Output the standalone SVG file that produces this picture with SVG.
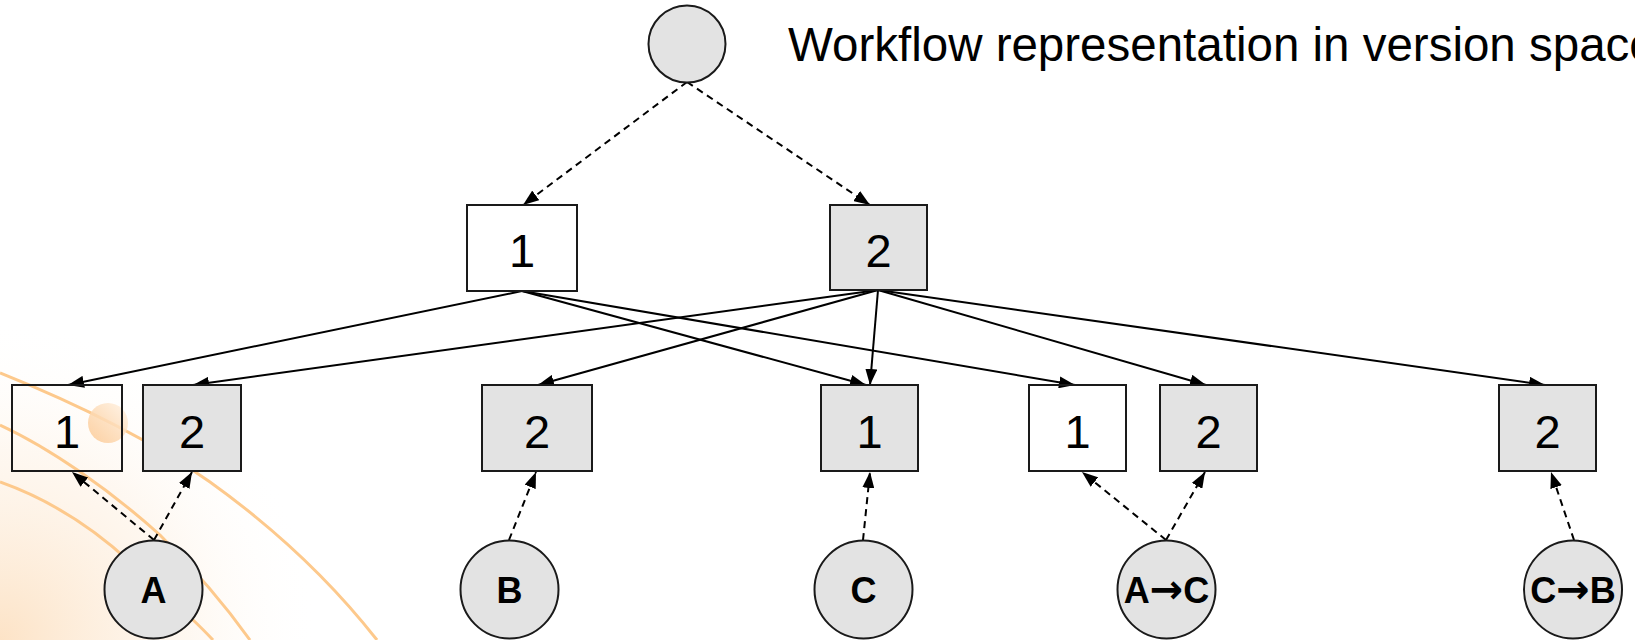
<svg xmlns="http://www.w3.org/2000/svg" width="1635" height="640" viewBox="0 0 1635 640">
  <defs>
    <style>
      .box { stroke: #1a1a1a; stroke-width: 2; }
      .plain { fill: none; }
      .shade { fill: #e3e3e3; }
      .node-circle { fill: #e3e3e3; stroke: #1a1a1a; stroke-width: 2; }
      .num { font-family: "Liberation Sans", Arial, sans-serif; font-size: 47px; fill: #000; text-anchor: middle; }
      .lbl { font-family: "Liberation Sans", Arial, sans-serif; font-size: 36px; font-weight: bold; fill: #000; text-anchor: middle; }
      .arr { font-family: "DejaVu Sans", sans-serif; font-size: 40px; font-weight: bold; }
      .title { font-family: "Liberation Sans", Arial, sans-serif; font-size: 47.5px; fill: #000; }
      .edge { fill: none; stroke: #000; stroke-width: 2; marker-end: url(#arrow); }
      .dashed { stroke-dasharray: 7 5; }
      .swoosh { fill: none; stroke: #fdc98c; stroke-width: 3; }
    </style>
    <marker id="arrow" markerUnits="userSpaceOnUse" markerWidth="16" markerHeight="12" refX="16" refY="6" orient="auto">
      <path d="M0,0 L16,6 L0,12 z" fill="#000"/>
    </marker>
    <radialGradient id="cornerGlow" cx="0" cy="640" r="320" gradientUnits="userSpaceOnUse">
      <stop offset="0" stop-color="#fcdcb8" stop-opacity="0.8"/>
      <stop offset="0.6" stop-color="#fdeedd" stop-opacity="0.4"/>
      <stop offset="1" stop-color="#ffffff" stop-opacity="0"/>
    </radialGradient>
    <linearGradient id="blob" x1="1" y1="0" x2="0" y2="1">
      <stop offset="0" stop-color="#fff3e6"/>
      <stop offset="0.5" stop-color="#fddcb8"/>
      <stop offset="1" stop-color="#fcc892"/>
    </linearGradient>
  </defs>

  <rect width="1635" height="640" fill="#ffffff"/>

  <!-- decorative background swooshes, lower left -->
  <g id="backdrop">
    <rect x="0" y="300" width="420" height="340" fill="url(#cornerGlow)"/>
    <path class="swoosh" d="M0,373 C80,405 150,440 210,482 C270,525 330,580 377,640"/>
    <path class="swoosh" d="M0,425 C50,448 110,490 160,535 C190,565 225,605 250,640"/>
    <path class="swoosh" d="M0,482 C45,498 90,525 130,562 C160,590 190,615 213,640"/>
    <circle cx="108" cy="423" r="20" fill="url(#blob)" opacity="0.85"/>
  </g>

  <text class="title" x="788" y="61">Workflow representation in version space</text>

  <g id="connectors">
    <!-- root to version tier -->
    <line class="edge dashed" x1="687" y1="82" x2="523" y2="205"/>
    <line class="edge dashed" x1="687" y1="82" x2="870" y2="205"/>
    <!-- version 1 to leaf versions -->
    <line class="edge" x1="522" y1="291" x2="68" y2="385"/>
    <line class="edge" x1="522" y1="291" x2="866" y2="385"/>
    <line class="edge" x1="522" y1="291" x2="1075" y2="385"/>
    <!-- version 2 to leaf versions -->
    <line class="edge" x1="878" y1="290" x2="193" y2="385"/>
    <line class="edge" x1="878" y1="290" x2="538" y2="385"/>
    <line class="edge" x1="878" y1="290" x2="870" y2="385"/>
    <line class="edge" x1="878" y1="290" x2="1206" y2="385"/>
    <line class="edge" x1="878" y1="290" x2="1545" y2="385"/>
    <!-- operations to the versions they touch -->
    <line class="edge dashed" x1="154" y1="540" x2="72" y2="472"/>
    <line class="edge dashed" x1="154" y1="540" x2="192" y2="472"/>
    <line class="edge dashed" x1="509" y1="540" x2="536" y2="472"/>
    <line class="edge dashed" x1="863" y1="540" x2="870" y2="472"/>
    <line class="edge dashed" x1="1166" y1="540" x2="1082" y2="472"/>
    <line class="edge dashed" x1="1166" y1="540" x2="1205" y2="472"/>
    <line class="edge dashed" x1="1574" y1="540" x2="1551" y2="472"/>
  </g>

  <g id="root">
    <circle class="node-circle" cx="687" cy="44" r="38.5"/>
  </g>

  <g id="v1">
    <rect class="box plain" x="467" y="205" width="110" height="86"/>
    <text class="num" x="522" y="267">1</text>
  </g>
  <g id="v2">
    <rect class="box shade" x="830" y="205" width="97" height="85"/>
    <text class="num" x="878.5" y="267">2</text>
  </g>

  <g id="a1">
    <rect class="box plain" x="12" y="385" width="110" height="86"/>
    <text class="num" x="67" y="448">1</text>
  </g>
  <g id="a2">
    <rect class="box shade" x="143" y="385" width="98" height="86"/>
    <text class="num" x="192" y="448">2</text>
  </g>
  <g id="b2">
    <rect class="box shade" x="482" y="385" width="110" height="86"/>
    <text class="num" x="537" y="448">2</text>
  </g>
  <g id="c1">
    <rect class="box shade" x="821" y="385" width="97" height="86"/>
    <text class="num" x="869.5" y="448">1</text>
  </g>
  <g id="ac1">
    <rect class="box plain" x="1029" y="385" width="97" height="86"/>
    <text class="num" x="1077.5" y="448">1</text>
  </g>
  <g id="ac2">
    <rect class="box shade" x="1160" y="385" width="97" height="86"/>
    <text class="num" x="1208.5" y="448">2</text>
  </g>
  <g id="cb2">
    <rect class="box shade" x="1499" y="385" width="97" height="86"/>
    <text class="num" x="1547.5" y="448">2</text>
  </g>

  <g id="op-a">
    <circle class="node-circle" cx="153.5" cy="589.5" r="49"/>
    <text class="lbl" x="153.5" y="603">A</text>
  </g>
  <g id="op-b">
    <circle class="node-circle" cx="509.5" cy="589.5" r="49"/>
    <text class="lbl" x="509.5" y="603">B</text>
  </g>
  <g id="op-c">
    <circle class="node-circle" cx="863.5" cy="589.5" r="49"/>
    <text class="lbl" x="863.5" y="603">C</text>
  </g>
  <g id="op-ac">
    <circle class="node-circle" cx="1166.5" cy="589.5" r="49"/>
    <text class="lbl" x="1166.5" y="603">A<tspan class="arr">→</tspan>C</text>
  </g>
  <g id="op-cb">
    <circle class="node-circle" cx="1573" cy="589.5" r="49"/>
    <text class="lbl" x="1573" y="603">C<tspan class="arr">→</tspan>B</text>
  </g>
</svg>
